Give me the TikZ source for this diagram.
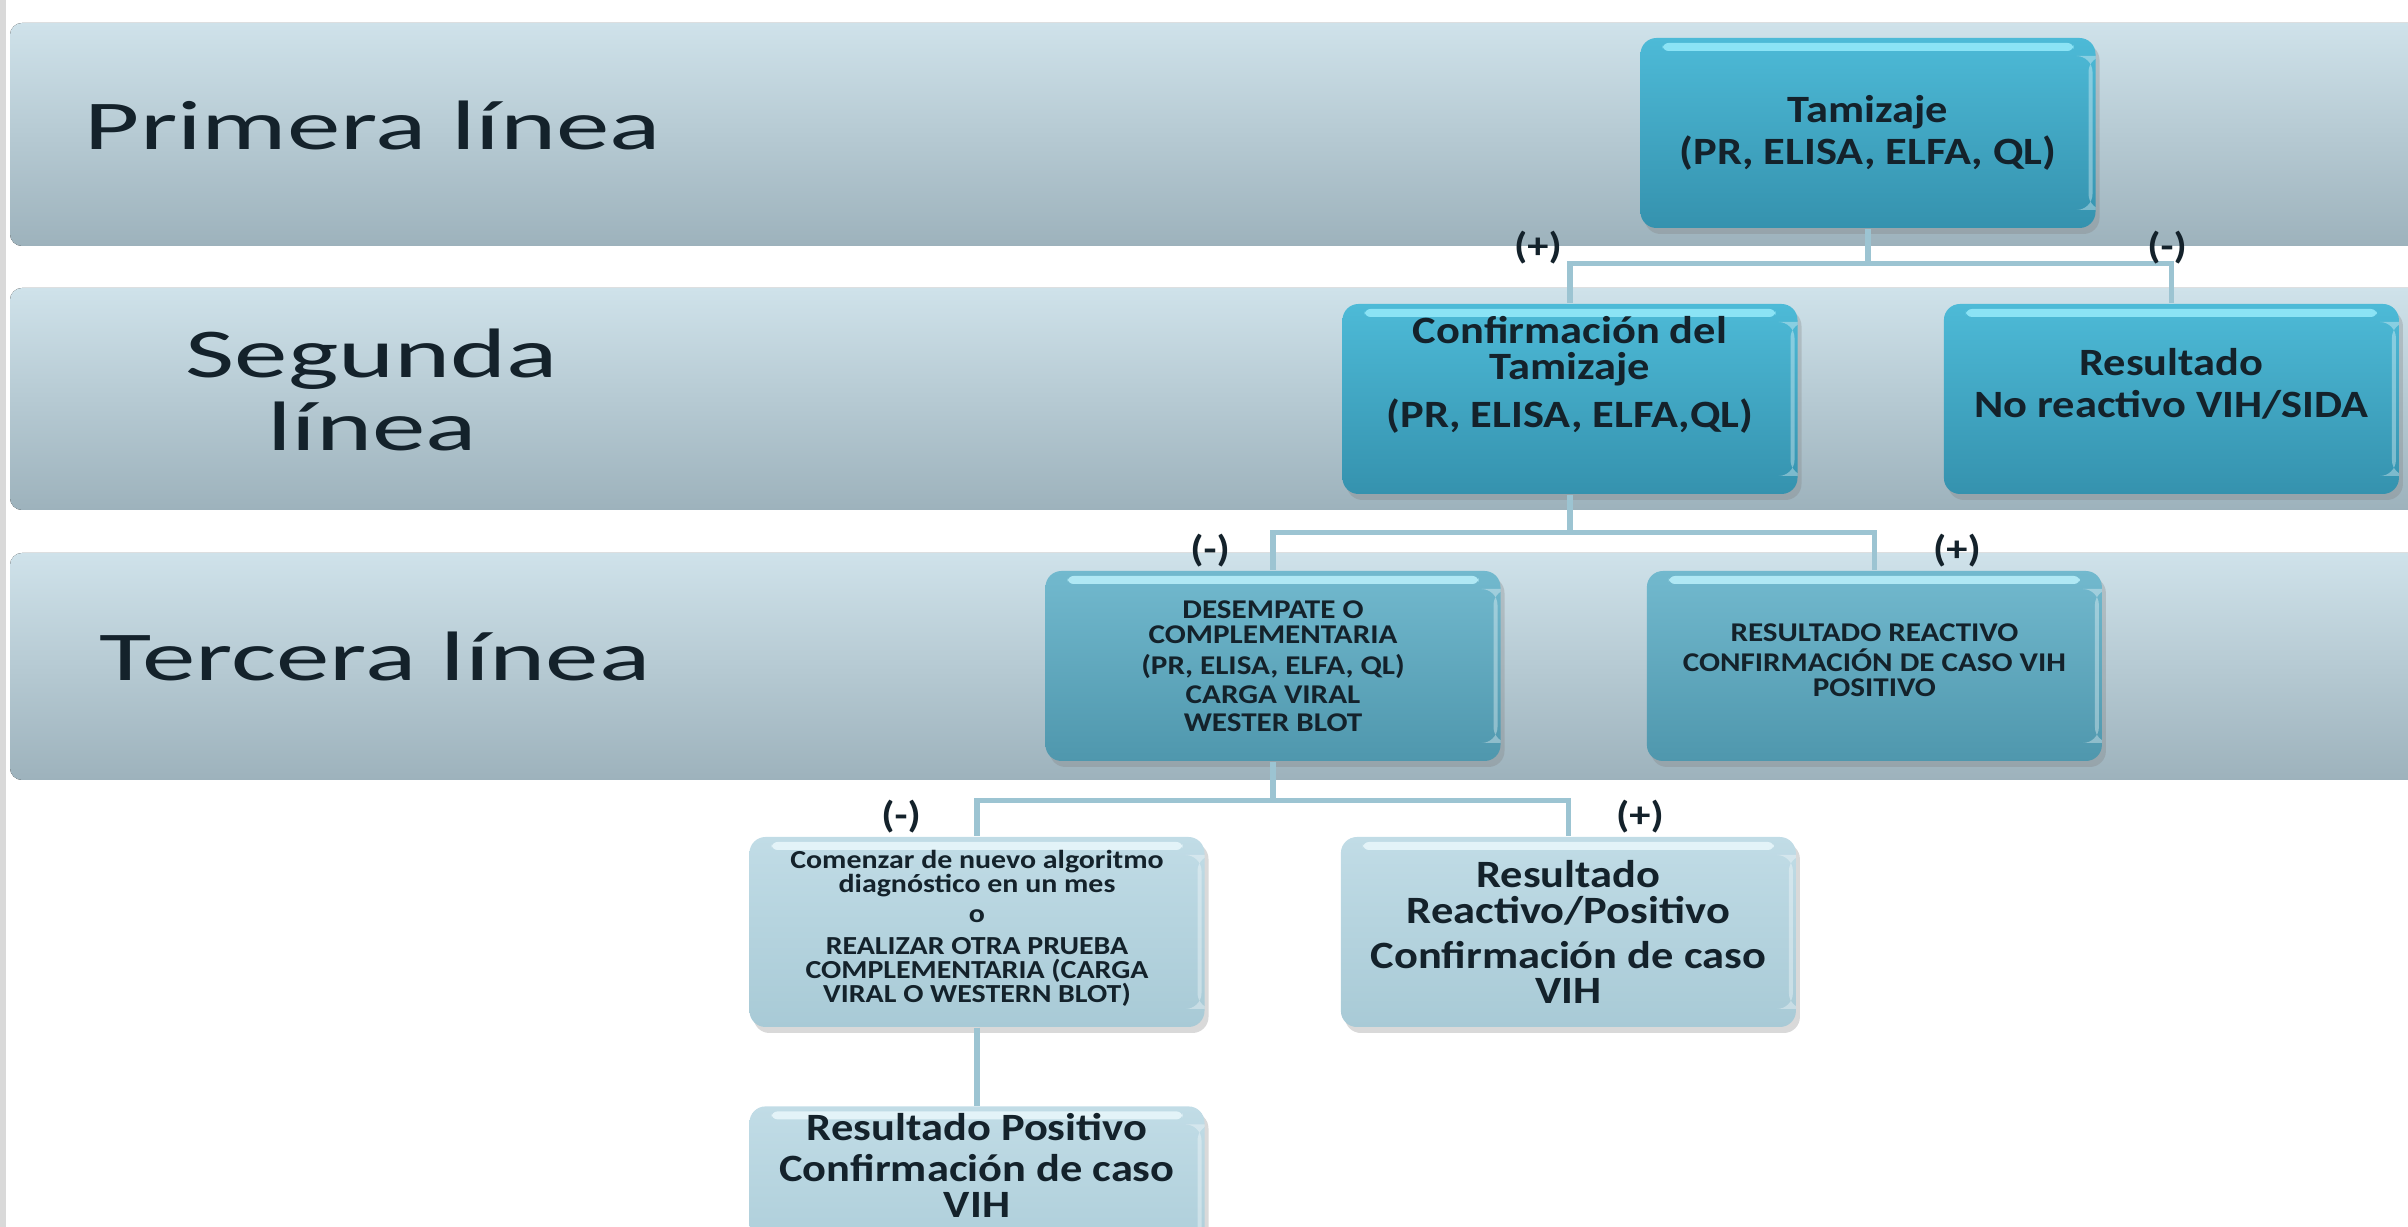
\documentclass[tikz,border=0pt]{standalone}
\usepackage{fontspec}
\setmainfont{Carlito}
\newfontfamily\bandfont{Carlito}[FakeStretch=1.53]
\newfontfamily\boxfont{Carlito}[FakeStretch=1.15]
\usetikzlibrary{positioning,shadows}

\definecolor{bandtop}{HTML}{CFE2EA}
\definecolor{bandbot}{HTML}{9DB2BC}
\definecolor{tealtop}{HTML}{4DBAD7}
\definecolor{tealbot}{HTML}{3592AE}
\definecolor{tealhl}{HTML}{8BE3F5}
\definecolor{midtop}{HTML}{72B9CE}
\definecolor{midbot}{HTML}{4F97AD}
\definecolor{midhl}{HTML}{B0E8F4}
\definecolor{paletop}{HTML}{C1DCE6}
\definecolor{palebot}{HTML}{A8CAD6}
\definecolor{palehl}{HTML}{E3F3F8}
\definecolor{linkc}{HTML}{9CC4D2}
\definecolor{ink}{HTML}{14222B}

\begin{document}
\begin{tikzpicture}[x=0.1mm, y=-0.1mm,
  band/.style={top color=bandtop, bottom color=bandbot, rounded corners=1.2mm},
  rowname/.style={font={\bandfont\fontsize{19.9}{21}\selectfont}, text=ink, inner sep=0pt},
  hilite/.style={path picture={
    \fill[#1, rounded corners=0.6mm] ([xshift=2.2mm,yshift=-0.5mm]path picture bounding box.north west) rectangle ([xshift=-2.2mm,yshift=-1.3mm]path picture bounding box.north east);
    \fill[white, opacity=0.35] ([xshift=-0.7mm,yshift=-1.8mm]path picture bounding box.north east) rectangle ([xshift=-0.3mm,yshift=1.8mm]path picture bounding box.south east);}},
  box/.style={rectangle, rounded corners=1.6mm, minimum width=45.5mm, minimum height=19mm, inner sep=0pt, align=center, text=ink,
    drop shadow={opacity=0.3, shadow xshift=0.4mm, shadow yshift=-0.6mm}},
  teal/.style={box, top color=tealtop, bottom color=tealbot, hilite=tealhl},
  mid/.style={box, top color=midtop, bottom color=midbot, hilite=midhl},
  pale/.style={box, top color=paletop, bottom color=palebot, hilite=palehl},
  bigtxt/.style={font={\boxfont\bfseries\fontsize{11}{10.2}\selectfont\lineskiplimit=-20pt}},
  smalltxt/.style={font={\boxfont\bfseries\fontsize{7.7}{7.1}\selectfont\lineskiplimit=-20pt}},
  tinytxt/.style={font={\boxfont\bfseries\fontsize{7.4}{6.8}\selectfont\lineskiplimit=-20pt}},
  sign/.style={font={\boxfont\bfseries\fontsize{10.5}{11}\selectfont}, text=ink, inner sep=0pt},
  link/.style={draw=linkc, line width=0.55mm}]
  \useasboundingbox (0,0) rectangle (2408,1227);
  \clip (0,0) rectangle (2408,1227);
  \fill[gray!30] (0,0) rectangle (6,1227);

  % bands
  \fill[band] (10,23) rectangle (2470,246);
  \fill[band] (10,288) rectangle (2470,510);
  \fill[band] (10,553) rectangle (2470,780);
  \node[rowname, anchor=base west] (first) at (84,150) {Primera línea};
  \node[rowname, align=center] (second) at (372,390) {Segunda\\línea};
  \node[rowname, anchor=base west] (third) at (99,681) {Tercera línea};

  % boxes
  \node[teal, bigtxt] (tam) at (1868,133) {Tamizaje\\[1.8pt](PR, ELISA, ELFA, QL)};
  \node[teal, bigtxt, text depth=5.4mm] (conf) at (1570,399) {Confirmación del\\Tamizaje\\[3.5pt](PR, ELISA, ELFA,QL)};
  \node[teal, bigtxt, text depth=3.2mm, right=14.5mm of conf] (noreact) {Resultado\\[2pt]No reactivo VIH/SIDA};
  \node[mid, smalltxt] (desemp) at (1273,666) {DESEMPATE O\\COMPLEMENTARIA\\[1.7pt](PR, ELISA, ELFA, QL)\\[1.2pt]CARGA VIRAL\\[0.9pt]WESTER BLOT};
  \node[mid, smalltxt, text depth=1.2mm, right=14.5mm of desemp] (resreact) {RESULTADO REACTIVO\\[1.4pt]CONFIRMACIÓN  DE CASO VIH\\POSITIVO};
  \node[pale, tinytxt, text depth=1.2mm] (comenzar) at (977,932) {Comenzar de nuevo algoritmo\\diagnóstico en un mes\\[1.8pt]o\\[2.3pt]REALIZAR OTRA PRUEBA\\COMPLEMENTARIA (CARGA\\VIRAL O WESTERN BLOT)};
  \node[pale, bigtxt, right=13.5mm of comenzar] (reactpos) {Resultado\\Reactivo/Positivo\\[2.6pt]Confirmación de caso\\VIH};
  \node[pale, bigtxt, text depth=7.2mm, below=7.8mm of comenzar] (respos) {Resultado Positivo\\[1.5pt]Confirmación de caso\\VIH};

  % connectors
  \draw[link] (tam.south) -- ++(0,35) coordinate (j1) -| (conf.north);
  \draw[link] (j1) -| (noreact.north);
  \draw[link] (conf.south) -- ++(0,38) coordinate (j2) -| (desemp.north);
  \draw[link] (j2) -| (resreact.north);
  \draw[link] (desemp.south) -- ++(0,39) coordinate (j3) -| (comenzar.north);
  \draw[link] (j3) -| (reactpos.north);
  \draw[link] (comenzar) -- (respos);

  % results
  \node[sign] (pos1) at (1538,248) {(+)};
  \node[sign] (neg1) at (2167,248) {(-)};
  \node[sign] (neg2) at (1210,551) {(-)};
  \node[sign] (pos2) at (1957,551) {(+)};
  \node[sign] (neg3) at (901,817) {(-)};
  \node[sign] (pos3) at (1640,817) {(+)};
\end{tikzpicture}
\end{document}
